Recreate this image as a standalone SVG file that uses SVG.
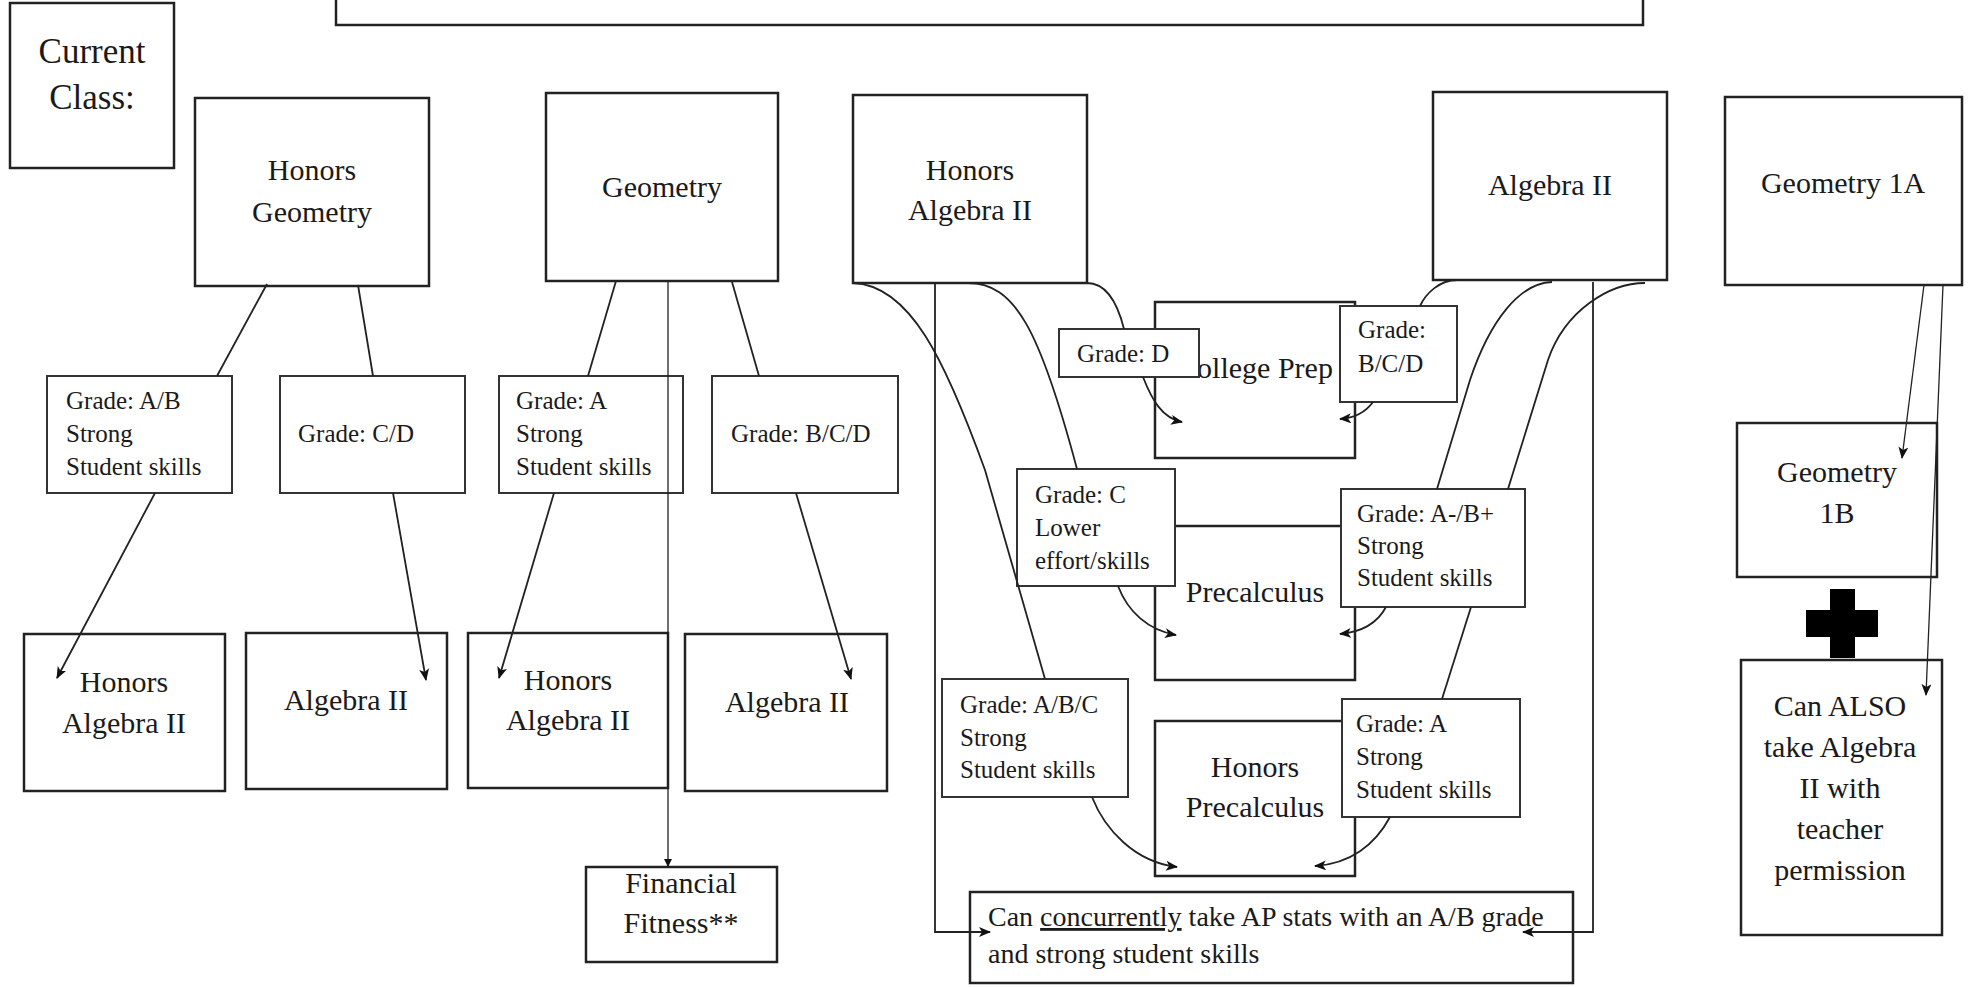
<svg xmlns="http://www.w3.org/2000/svg" width="1971" height="987" viewBox="0 0 1971 987">
<style>
rect.box{fill:#fff;stroke:#222;stroke-width:2.5}
rect.lbl{fill:#fff;stroke:#333;stroke-width:2}
text{font-family:"Liberation Serif","Times New Roman",serif;fill:#1a1a1a}
.t30{font-size:30px;text-anchor:middle}
.t35{font-size:35px;text-anchor:middle}
.t25{font-size:25px}
.t28{font-size:28px}
.conn path{fill:none;stroke:#222;stroke-width:1.8}
.conn path.arr{marker-end:url(#ah)}
.conn path.thin{stroke-width:1.3}
</style>
<defs>
<marker id="ah" markerUnits="userSpaceOnUse" viewBox="0 0 12 10" refX="11" refY="5" markerWidth="12" markerHeight="10" orient="auto">
<path d="M0,0 L12,5 L0,10 L3,5 z" fill="#111"/>
</marker>
<marker id="ahs" markerUnits="userSpaceOnUse" viewBox="0 0 8 8" refX="7" refY="4" markerWidth="8" markerHeight="8" orient="auto">
<path d="M0,0 L8,4 L0,8 z" fill="#111"/>
</marker>
</defs>

<g id="top-box"><rect class="box" x="336" y="-5" width="1307" height="30"/></g>
<g id="current-class"><rect class="box" x="10" y="3" width="164" height="165"/>
<text class="t35" x="92" y="63">Current</text><text class="t35" x="92" y="109">Class:</text></g>

<g id="honors-geometry"><rect class="box" x="195" y="98" width="234" height="188"/>
<text class="t30" x="312" y="180">Honors</text><text class="t30" x="312" y="222">Geometry</text></g>
<g id="geometry"><rect class="box" x="546" y="93" width="232" height="188"/>
<text class="t30" x="662" y="197">Geometry</text></g>
<g id="honors-algebra2-top"><rect class="box" x="853" y="95" width="234" height="188"/>
<text class="t30" x="970" y="180">Honors</text><text class="t30" x="970" y="220">Algebra II</text></g>
<g id="algebra2-top"><rect class="box" x="1433" y="92" width="234" height="188"/>
<text class="t30" x="1550" y="195">Algebra II</text></g>
<g id="geometry-1a"><rect class="box" x="1725" y="97" width="237" height="188"/>
<text class="t30" x="1843" y="193">Geometry 1A</text></g>

<g id="lbl-hg-ab"><rect class="lbl" x="47" y="376" width="185" height="117"/>
<text class="t25" x="66" y="409">Grade: A/B</text><text class="t25" x="66" y="442">Strong</text><text class="t25" x="66" y="475">Student skills</text></g>
<g id="lbl-hg-cd"><rect class="lbl" x="280" y="376" width="185" height="117"/>
<text class="t25" x="298" y="442">Grade: C/D</text></g>
<g id="lbl-g-a"><rect class="lbl" x="499" y="376" width="184" height="117"/>
<text class="t25" x="516" y="409">Grade: A</text><text class="t25" x="516" y="442">Strong</text><text class="t25" x="516" y="475">Student skills</text></g>
<g id="lbl-g-bcd"><rect class="lbl" x="712" y="376" width="186" height="117"/>
<text class="t25" x="731" y="442">Grade: B/C/D</text></g>

<g id="honors-algebra2-a"><rect class="box" x="24" y="634" width="201" height="157"/>
<text class="t30" x="124" y="692">Honors</text><text class="t30" x="124" y="733">Algebra II</text></g>
<g id="algebra2-a"><rect class="box" x="246" y="633" width="201" height="156"/>
<text class="t30" x="346" y="710">Algebra II</text></g>
<g id="honors-algebra2-b"><rect class="box" x="468" y="633" width="200" height="155"/>
<text class="t30" x="568" y="690">Honors</text><text class="t30" x="568" y="730">Algebra II</text></g>
<g id="algebra2-b"><rect class="box" x="685" y="634" width="202" height="157"/>
<text class="t30" x="787" y="712">Algebra II</text></g>
<g id="financial-fitness"><rect class="box" x="586" y="867" width="191" height="95"/>
<text class="t30" x="681" y="893">Financial</text><text class="t30" x="681" y="933">Fitness**</text></g>

<g id="college-prep"><rect class="box" x="1155" y="302" width="200" height="156"/>
<text class="t30" x="1255" y="378">College Prep</text></g>
<g id="lbl-d"><rect class="lbl" x="1059" y="329" width="140" height="48"/>
<text class="t25" x="1077" y="362">Grade: D</text></g>
<g id="lbl-bcd2"><rect class="lbl" x="1340" y="306" width="117" height="96"/>
<text class="t25" x="1358" y="338">Grade:</text><text class="t25" x="1358" y="372">B/C/D</text></g>

<g id="precalculus"><rect class="box" x="1155" y="526" width="200" height="154"/>
<text class="t30" x="1255" y="602">Precalculus</text></g>
<g id="lbl-c"><rect class="lbl" x="1017" y="469" width="158" height="117"/>
<text class="t25" x="1035" y="503">Grade: C</text><text class="t25" x="1035" y="536">Lower</text><text class="t25" x="1035" y="569">effort/skills</text></g>
<g id="lbl-amb"><rect class="lbl" x="1341" y="489" width="184" height="118"/>
<text class="t25" x="1357" y="522">Grade: A-/B+</text><text class="t25" x="1357" y="554">Strong</text><text class="t25" x="1357" y="586">Student skills</text></g>

<g id="honors-precalculus"><rect class="box" x="1155" y="721" width="200" height="155"/>
<text class="t30" x="1255" y="777">Honors</text><text class="t30" x="1255" y="817">Precalculus</text></g>
<g id="lbl-abc"><rect class="lbl" x="942" y="679" width="186" height="118"/>
<text class="t25" x="960" y="713">Grade: A/B/C</text><text class="t25" x="960" y="746">Strong</text><text class="t25" x="960" y="778">Student skills</text></g>
<g id="lbl-a2"><rect class="lbl" x="1342" y="699" width="178" height="118"/>
<text class="t25" x="1356" y="732">Grade: A</text><text class="t25" x="1356" y="765">Strong</text><text class="t25" x="1356" y="798">Student skills</text></g>

<g id="ap-stats"><rect class="box" x="970" y="892" width="603" height="91"/>
<text class="t28" x="988" y="926">Can <tspan style="text-decoration:underline">concurrently</tspan> take AP stats with an A/B grade</text>
<text class="t28" x="988" y="963">and strong student skills</text></g>

<g id="geometry-1b"><rect class="box" x="1737" y="423" width="200" height="154"/>
<text class="t30" x="1837" y="482">Geometry</text><text class="t30" x="1837" y="523">1B</text></g>
<g id="plus"><rect x="1830" y="589" width="25" height="69" fill="#000"/><rect x="1806" y="610" width="72" height="27" fill="#000"/></g>
<g id="also-algebra2"><rect class="box" x="1741" y="660" width="201" height="275"/>
<text class="t30" x="1840" y="716">Can ALSO</text><text class="t30" x="1840" y="757">take Algebra</text><text class="t30" x="1840" y="798">II with</text><text class="t30" x="1840" y="839">teacher</text><text class="t30" x="1840" y="880">permission</text></g>

<g class="conn" id="connectors">
<path d="M267 284 L217 376"/>
<path d="M358 285 L373 376"/>
<path class="arr" d="M155 493 L57 678"/>
<path class="arr" d="M393 493 L426 680"/>
<path d="M616 281 L588 376"/>
<path d="M732 282 L759 376"/>
<path class="arr" d="M554 493 L499 678"/>
<path class="arr" d="M796 493 L851 679"/>
<path class="thin" d="M668 282 L668 866" style="marker-end:url(#ahs)"/>

<path d="M853 283 C910 285 945 360 985 470 L1045 679"/>
<path d="M968 283 C1015 283 1040 330 1077 469"/>
<path d="M1087 283 C1108 283 1118 305 1124 329"/>
<path class="arr" d="M1143 377 C1152 400 1162 418 1182 422"/>
<path d="M1457 280 C1440 280 1426 293 1420 306"/>
<path class="arr" d="M1373 402 C1365 413 1355 418 1340 419"/>
<path d="M1552 282 C1520 283 1490 320 1470 380 L1437 489"/>
<path d="M1645 283 C1610 283 1565 310 1548 360 L1508 489"/>
<path d="M1471 607 L1442 699"/>
<path class="arr" d="M1118 586 C1128 612 1148 630 1176 635"/>
<path class="arr" d="M1386 607 C1378 622 1362 632 1340 634"/>
<path class="arr" d="M1092 797 C1105 830 1135 862 1177 867"/>
<path class="arr" d="M1390 817 C1375 845 1350 864 1315 866"/>
<path class="arr" d="M935 283 L935 932 L990 932"/>
<path class="arr" d="M1593 282 L1593 932 L1523 932"/>

<path class="arr thin" d="M1924 285 L1902 458"/>
<path class="arr thin" d="M1943 285 L1926 695"/>
</g>
</svg>
